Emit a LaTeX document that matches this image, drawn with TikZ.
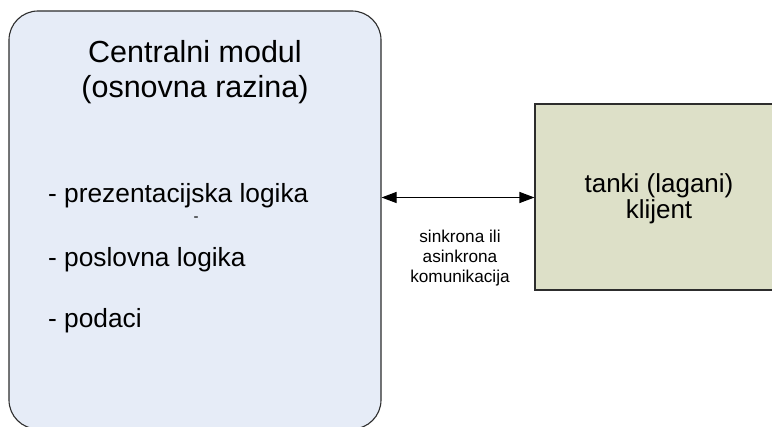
\documentclass[tikz,border=0pt]{standalone}
\usepackage{fontspec}
\setmainfont{Liberation Sans}
\usetikzlibrary{arrows.meta}
\definecolor{centralfill}{RGB}{230,236,247}
\definecolor{clientfill}{RGB}{221,224,200}
\definecolor{edgegray}{RGB}{45,45,45}
\tikzset{
  boxstyle/.style={draw=edgegray, line width=1.1pt, inner sep=0pt},
  titletext/.style={inner sep=0pt, font=\fontsize{30.5}{34}\selectfont},
  listtext/.style={inner sep=0pt, anchor=base west, font=\fontsize{26.3}{30}\selectfont},
  clienttext/.style={inner sep=0pt, anchor=base, font=\fontsize{26}{30}\selectfont},
  smalltext/.style={inner sep=0pt, anchor=base, font=\fontsize{17.2}{20}\selectfont},
  link/.style={draw=black, line width=1.1pt, {Triangle[length=15pt,width=11pt]}-{Triangle[length=15pt,width=11pt]}}
}
\begin{document}
\begin{tikzpicture}[x=1pt,y=-1pt]
\useasboundingbox (0,0) rectangle (772,427);
\fill[white] (0,0) rectangle (772,427);
\node[boxstyle, fill=centralfill, rounded corners=29pt, minimum width=372pt, minimum height=418pt] (central) at (195,220) {};
\node[boxstyle, fill=clientfill, minimum width=248pt, minimum height=186pt] (client) at (659,197) {};
\node[titletext, anchor=base] (t1) at (195,63) {Centralni modul};
\node[titletext, anchor=base] (t2) at (195,98) {(osnovna razina)};
\node[listtext] (l1) at (48,203) {- prezentacijska logika};
\node[smalltext, font=\fontsize{15}{16}\selectfont] (l1b) at (196,222) {-};
\node[listtext] (l2) at (48,267) {- poslovna logika};
\node[listtext] (l3) at (48,328) {- podaci};
\node[clienttext] (c1) at (659,193) {tanki (lagani)};
\node[clienttext] (c2) at (659,219) {klijent};
\node[smalltext] (s1) at (460,243) {sinkrona ili};
\node[smalltext] (s2) at (460,263) {asinkrona};
\node[smalltext] (s3) at (460,283) {komunikacija};
\coordinate (ay) at (0,197.5);
\draw[link] (central.east |- ay) -- (client.west |- ay);
\end{tikzpicture}
\end{document}
